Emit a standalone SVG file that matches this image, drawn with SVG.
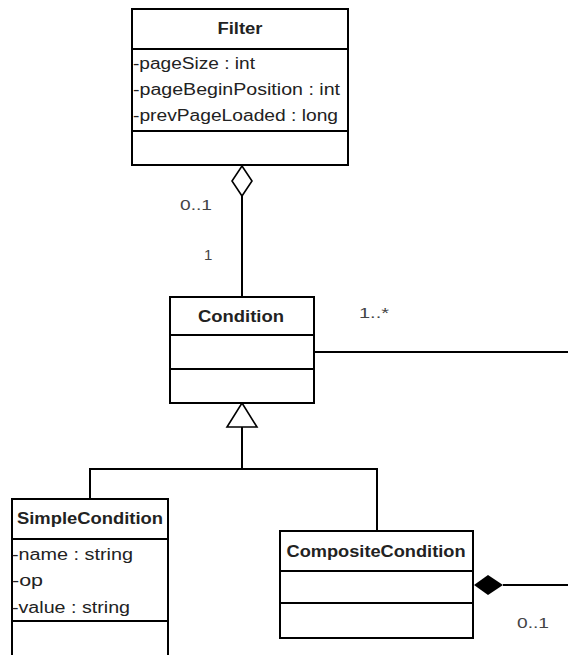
<svg xmlns="http://www.w3.org/2000/svg" width="568" height="655" viewBox="0 0 568 655">
<style>
.box{fill:#fff;stroke:#000;stroke-width:2}
.ln{stroke:#000;stroke-width:2;fill:none}
.t{font-family:"Liberation Sans",Arial,sans-serif;font-size:16px;fill:#222}
.b{font-weight:bold;text-anchor:middle}
.lbl{font-family:"Liberation Sans",Arial,sans-serif;font-size:15px;fill:#444}
</style>
<rect width="568" height="655" fill="#fff"/>
<g id="connectors">
<line class="ln" x1="242" y1="195" x2="242" y2="297"/>
<polygon points="242,166 252,181 242,196 232,181" fill="#fff" stroke="#000" stroke-width="1.6"/>
<line class="ln" x1="314" y1="352" x2="568" y2="352"/>
<polygon points="242,403 257,427 227,427" fill="#fff" stroke="#000" stroke-width="1.6"/>
<line class="ln" x1="242" y1="427" x2="242" y2="469"/>
<polyline class="ln" points="90,499 90,469 377,469 377,531"/>
<line class="ln" x1="503" y1="585" x2="568" y2="585"/>
<polygon points="474,585 488,575 503,585 488,595" fill="#000"/>
<text class="lbl" x="180" y="210" textLength="32" lengthAdjust="spacingAndGlyphs">0..1</text>
<text class="lbl" x="204" y="260">1</text>
<text class="lbl" x="359" y="318" textLength="30" lengthAdjust="spacingAndGlyphs">1..*</text>
<text class="lbl" x="517" y="628" textLength="32" lengthAdjust="spacingAndGlyphs">0..1</text>
</g>
<g id="Filter">
<rect class="box" x="132" y="9" width="216" height="156"/>
<line class="ln" x1="132" y1="49" x2="348" y2="49"/>
<line class="ln" x1="132" y1="131" x2="348" y2="131"/>
<text class="t b" x="240" y="34" textLength="45" lengthAdjust="spacingAndGlyphs">Filter</text>
<text class="t" x="133" y="69" textLength="122" lengthAdjust="spacingAndGlyphs">-pageSize : int</text>
<text class="t" x="133" y="95" textLength="207" lengthAdjust="spacingAndGlyphs">-pageBeginPosition : int</text>
<text class="t" x="133" y="121" textLength="205" lengthAdjust="spacingAndGlyphs">-prevPageLoaded : long</text>
</g>
<g id="Condition">
<rect class="box" x="170" y="297" width="144" height="106"/>
<line class="ln" x1="170" y1="335" x2="314" y2="335"/>
<line class="ln" x1="170" y1="369" x2="314" y2="369"/>
<text class="t b" x="241" y="322" textLength="86" lengthAdjust="spacingAndGlyphs">Condition</text>
</g>
<g id="SimpleCondition">
<rect class="box" x="12" y="499" width="156" height="165"/>
<line class="ln" x1="12" y1="539" x2="168" y2="539"/>
<line class="ln" x1="12" y1="621" x2="168" y2="621"/>
<text class="t b" x="90" y="524" textLength="146" lengthAdjust="spacingAndGlyphs">SimpleCondition</text>
<text class="t" x="12" y="560" textLength="121" lengthAdjust="spacingAndGlyphs">-name : string</text>
<text class="t" x="12" y="586" textLength="31" lengthAdjust="spacingAndGlyphs">-op</text>
<text class="t" x="12" y="613" textLength="118" lengthAdjust="spacingAndGlyphs">-value : string</text>
</g>
<g id="CompositeCondition">
<rect class="box" x="280" y="531" width="193" height="107"/>
<line class="ln" x1="280" y1="571" x2="473" y2="571"/>
<line class="ln" x1="280" y1="603" x2="473" y2="603"/>
<text class="t b" x="376" y="557" textLength="179" lengthAdjust="spacingAndGlyphs">CompositeCondition</text>
</g>
</svg>
